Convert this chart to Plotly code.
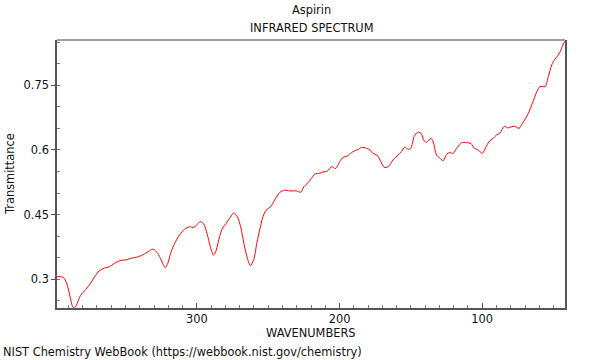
import plotly.graph_objects as go

wavenumber = [398.0, 394.7, 392.8, 390.5, 388.6, 387.0, 385.8, 383.9, 381.6, 378.8,
              375.3, 371.8, 368.3, 364.8, 361.3, 357.8, 353.1, 349.5, 346.0, 341.4,
              336.7, 333.2, 331.3, 329.7, 327.4, 325.0, 322.2, 320.4, 318.0, 315.6,
              312.1, 308.6, 305.1, 302.1, 299.7, 297.4, 295.1, 292.3, 289.9, 288.3,
              286.4, 284.1, 281.8, 279.4, 277.1, 274.2, 271.6, 269.3, 267.0, 264.6,
              262.5, 260.2, 257.9, 256.0, 253.7, 251.3, 248.3, 245.5, 242.0, 238.5,
              234.9, 230.2, 227.2, 224.9, 222.1, 219.7, 217.4, 213.9, 211.6, 208.5,
              205.7, 202.7, 199.9, 197.5, 194.5, 191.6, 189.3, 187.0, 184.6, 181.1,
              178.8, 176.5, 173.4, 171.1, 168.8, 166.0, 162.5, 159.0, 156.6, 154.2,
              151.9, 150.0, 147.7, 145.3, 143.0, 140.7, 139.0, 136.0, 134.4, 132.0,
              129.7, 127.4, 125.0, 122.7, 120.4, 118.0, 115.6, 114.5, 110.9, 107.9,
              105.6, 102.8, 100.0, 97.6, 95.3, 92.3, 89.9, 87.6, 84.6, 81.8,
              79.4, 77.1, 74.3, 71.2, 67.7, 64.9, 61.8, 59.5, 56.0, 53.7,
              51.3, 49.0, 46.7, 44.8, 43.2, 42.0]

transmittance = [0.306, 0.306, 0.302, 0.283, 0.256, 0.236, 0.233, 0.244, 0.262, 0.273,
                 0.287, 0.305, 0.320, 0.326, 0.329, 0.337, 0.344, 0.345, 0.349, 0.352,
                 0.359, 0.366, 0.370, 0.368, 0.360, 0.345, 0.327, 0.337, 0.364, 0.383,
                 0.403, 0.416, 0.422, 0.420, 0.428, 0.434, 0.428, 0.399, 0.368, 0.356,
                 0.368, 0.399, 0.420, 0.430, 0.441, 0.454, 0.445, 0.422, 0.383, 0.349,
                 0.332, 0.345, 0.385, 0.414, 0.445, 0.461, 0.468, 0.484, 0.501, 0.507,
                 0.505, 0.505, 0.502, 0.515, 0.524, 0.534, 0.544, 0.546, 0.549, 0.551,
                 0.561, 0.557, 0.573, 0.583, 0.586, 0.594, 0.598, 0.601, 0.606, 0.604,
                 0.600, 0.592, 0.587, 0.573, 0.560, 0.561, 0.577, 0.588, 0.596, 0.607,
                 0.601, 0.604, 0.631, 0.641, 0.639, 0.621, 0.618, 0.627, 0.619, 0.588,
                 0.581, 0.575, 0.590, 0.594, 0.592, 0.604, 0.613, 0.617, 0.617, 0.615,
                 0.604, 0.600, 0.592, 0.605, 0.619, 0.627, 0.635, 0.639, 0.655, 0.651,
                 0.654, 0.655, 0.650, 0.665, 0.685, 0.708, 0.735, 0.747, 0.747, 0.770,
                 0.797, 0.811, 0.820, 0.832, 0.846, 0.852]

x_ticks = [300, 200, 100]
y_ticks = [0.3, 0.45, 0.6, 0.75]
y_tick_labels = ["0.3", "0.45", "0.6", "0.75"]

FONT = "DejaVu Sans"
FS = 11.4
AXC = "#555555"

fig = go.Figure()
fig.add_trace(go.Scatter(x=wavenumber, y=transmittance, mode="lines",
                         line=dict(color="red", width=1, shape="spline", smoothing=0.8),
                         hoverinfo="x+y", showlegend=False))

fig.update_layout(
    width=600, height=360,
    margin=dict(l=57, r=35, t=40, b=52),
    paper_bgcolor="white", plot_bgcolor="white",
    font=dict(family=FONT, size=FS, color="#111111"),
    xaxis=dict(range=[398, 42], autorange=False, showgrid=False, zeroline=False,
               tickmode="array", tickvals=x_ticks, ticks="inside", ticklen=5,
               tickcolor=AXC, tickwidth=1,
               minor=dict(dtick=10, tick0=0, ticks="inside", ticklen=3,
                          tickcolor="#777777", showgrid=False),
               showline=True, linecolor=AXC, linewidth=1.5,
               tickfont=dict(family=FONT, size=FS, color="#111111")),
    yaxis=dict(range=[0.2335, 0.855], autorange=False, showgrid=False, zeroline=False,
               tickmode="array", tickvals=y_ticks, ticktext=y_tick_labels,
               ticks="outside", ticklen=4, tickcolor=AXC, tickwidth=1,
               minor=dict(dtick=0.05, tick0=0, ticks="inside", ticklen=3,
                          tickcolor="#777777", showgrid=False),
               showline=True, linecolor=AXC, linewidth=1.5, mirror=True,
               tickfont=dict(family=FONT, size=FS, color="#111111")),
    shapes=[dict(type="line", xref="paper", yref="paper", x0=0, x1=1, y0=1, y1=1,
                 line=dict(color="#a0a0a0", width=2))],
    annotations=[
        dict(text="Aspirin", xref="paper", yref="paper", x=0.5, y=1,
             xanchor="center", yanchor="bottom", yshift=21, showarrow=False,
             font=dict(family=FONT, size=FS)),
        dict(text="INFRARED SPECTRUM", xref="paper", yref="paper", x=0.5, y=1,
             xanchor="center", yanchor="bottom", yshift=3, showarrow=False,
             font=dict(family=FONT, size=FS)),
        dict(text="WAVENUMBERS", xref="paper", yref="paper", x=0.5, y=0,
             xanchor="center", yanchor="top", yshift=-16, showarrow=False,
             font=dict(family=FONT, size=FS)),
        dict(text="Transmittance", xref="paper", yref="paper", x=0, y=0.5,
             xanchor="center", yanchor="middle", xshift=-47, textangle=-90,
             showarrow=False, font=dict(family=FONT, size=FS)),
        dict(text="NIST Chemistry WebBook (https://webbook.nist.gov/chemistry)",
             xref="paper", yref="paper", x=0, y=0, xanchor="left", yanchor="middle",
             xshift=-56, yshift=-44, showarrow=False, font=dict(family=FONT, size=FS)),
    ],
)

fig.write_html("out.html", config={"displayModeBar": False},
               post_script="document.body.style.margin='0';document.body.style.overflow='hidden';")
